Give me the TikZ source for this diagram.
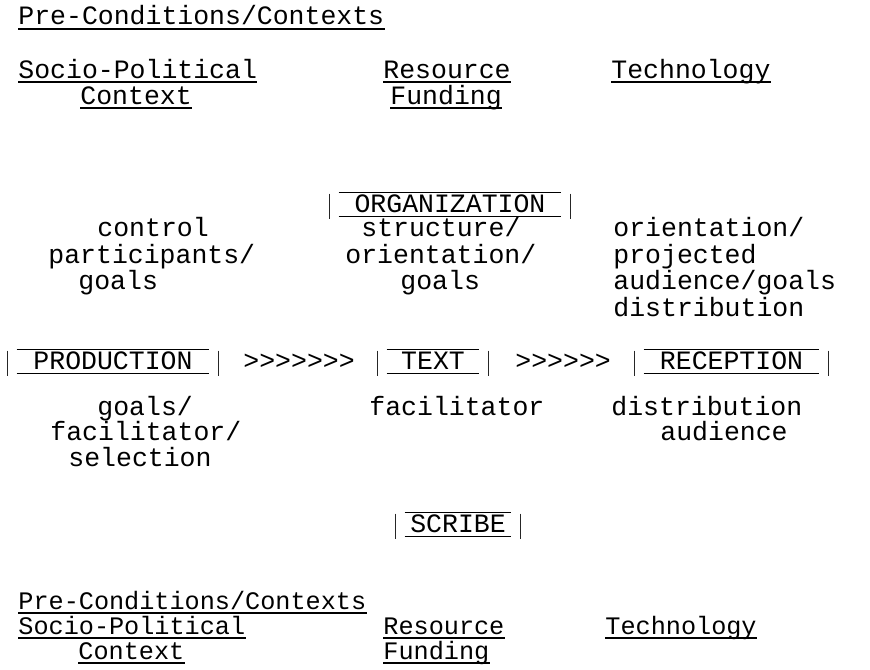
\documentclass[tikz,border=0pt]{standalone}
\usepackage{fontspec}
\setmonofont{Liberation Mono}
\newcommand\mainfnt{\ttfamily\fontsize{13.25pt}{16pt}\selectfont}
\newcommand\smallfnt{\ttfamily\fontsize{12.6pt}{15pt}\selectfont}
\tikzset{
  txt/.style={anchor=base west, inner sep=0pt, font=\mainfnt},
  stxt/.style={anchor=base west, inner sep=0pt, font=\smallfnt},
  ulline/.style={line width=0.6pt, black},
  boxlab/.style={anchor=base, inner xsep=0pt, inner ysep=0pt, text height=9.5pt, text depth=2pt, font=\mainfnt},
  barline/.style={line width=0.5pt, black!85},
  olline/.style={line width=0.6pt, black}
}
\begin{document}
\begin{tikzpicture}[x=0.5pt, y=-0.5pt]
\useasboundingbox (0,0) rectangle (870,669);
\fill[white] (0,0) rectangle (870,669);

% top contexts
\node[txt] (pcA) at (18,25) {Pre-Conditions/Contexts};
\node[txt] (spA) at (18,78) {Socio-Political};
\node[txt] (ctxA) at (80,104) {Context};
\node[txt] (resA) at (383,78) {Resource};
\node[txt] (funA) at (390,104) {Funding};
\node[txt] (techA) at (611,78) {Technology};

% organization
\node[boxlab, minimum width=120pt] (org) at (450,212) {ORGANIZATION};

% middle upper columns
\node[txt] (l1) at (97,236) {control};
\node[txt] (l2) at (48,263) {participants/};
\node[txt] (l3) at (78,289) {goals};
\node[txt] (c1) at (361,236) {structure/};
\node[txt] (c2) at (345,263) {orientation/};
\node[txt] (c3) at (400,289) {goals};
\node[txt] (r1) at (613,236) {orientation/};
\node[txt] (r2) at (613,263) {projected};
\node[txt] (r3) at (613,289) {audience/goals};
\node[txt] (r4) at (613,316) {distribution};

% main row
\node[boxlab, minimum width=105pt] (prod) at (113,369) {PRODUCTION};
\node[txt] (arr1) at (243,369) {>>>>>>>};
\node[boxlab, minimum width=55pt] (textb) at (433,369) {TEXT};
\node[txt] (arr2) at (515,369) {>>>>>>};
\node[boxlab, minimum width=96.5pt] (rec) at (731.5,369) {RECEPTION};

% lower columns
\node[txt] (m1) at (97,415) {goals/};
\node[txt] (m2) at (50,440) {facilitator/};
\node[txt] (m3) at (68,466) {selection};
\node[txt] (n1) at (369,415) {facilitator};
\node[txt] (o1) at (611,415) {distribution};
\node[txt] (o2) at (660,440) {audience};

% scribe
\node[boxlab, minimum width=62pt] (scr) at (458,532) {SCRIBE};

% bottom contexts
\node[stxt] (pcB) at (18,609) {Pre-Conditions/Contexts};
\node[stxt] (spB) at (18,634) {Socio-Political};
\node[stxt] (ctxB) at (78,659) {Context};
\node[stxt] (resB) at (383,634) {Resource};
\node[stxt] (funB) at (383,659) {Funding};
\node[stxt] (techB) at (605,634) {Technology};

% underlines
\foreach \n in {pcA,spA,ctxA,resA,funA,techA,pcB,spB,ctxB,resB,funB,techB}
  \draw[ulline] ([yshift=-2pt]\n.base west) -- ([yshift=-2pt]\n.base east);

% boxed labels
\foreach \n in {org,prod,textb,rec,scr} {
  \draw[barline] ([yshift=-0.5pt]\n.north west) -- ([yshift=-1.5pt]\n.south west);
  \draw[barline] ([yshift=-0.5pt]\n.north east) -- ([yshift=-1.5pt]\n.south east);
  \draw[olline] ([xshift=4.5pt]\n.north west) -- ([xshift=-4.5pt]\n.north east);
  \draw[olline] ([xshift=4.5pt]\n.south west) -- ([xshift=-4.5pt]\n.south east);
}
\end{tikzpicture}
\end{document}
